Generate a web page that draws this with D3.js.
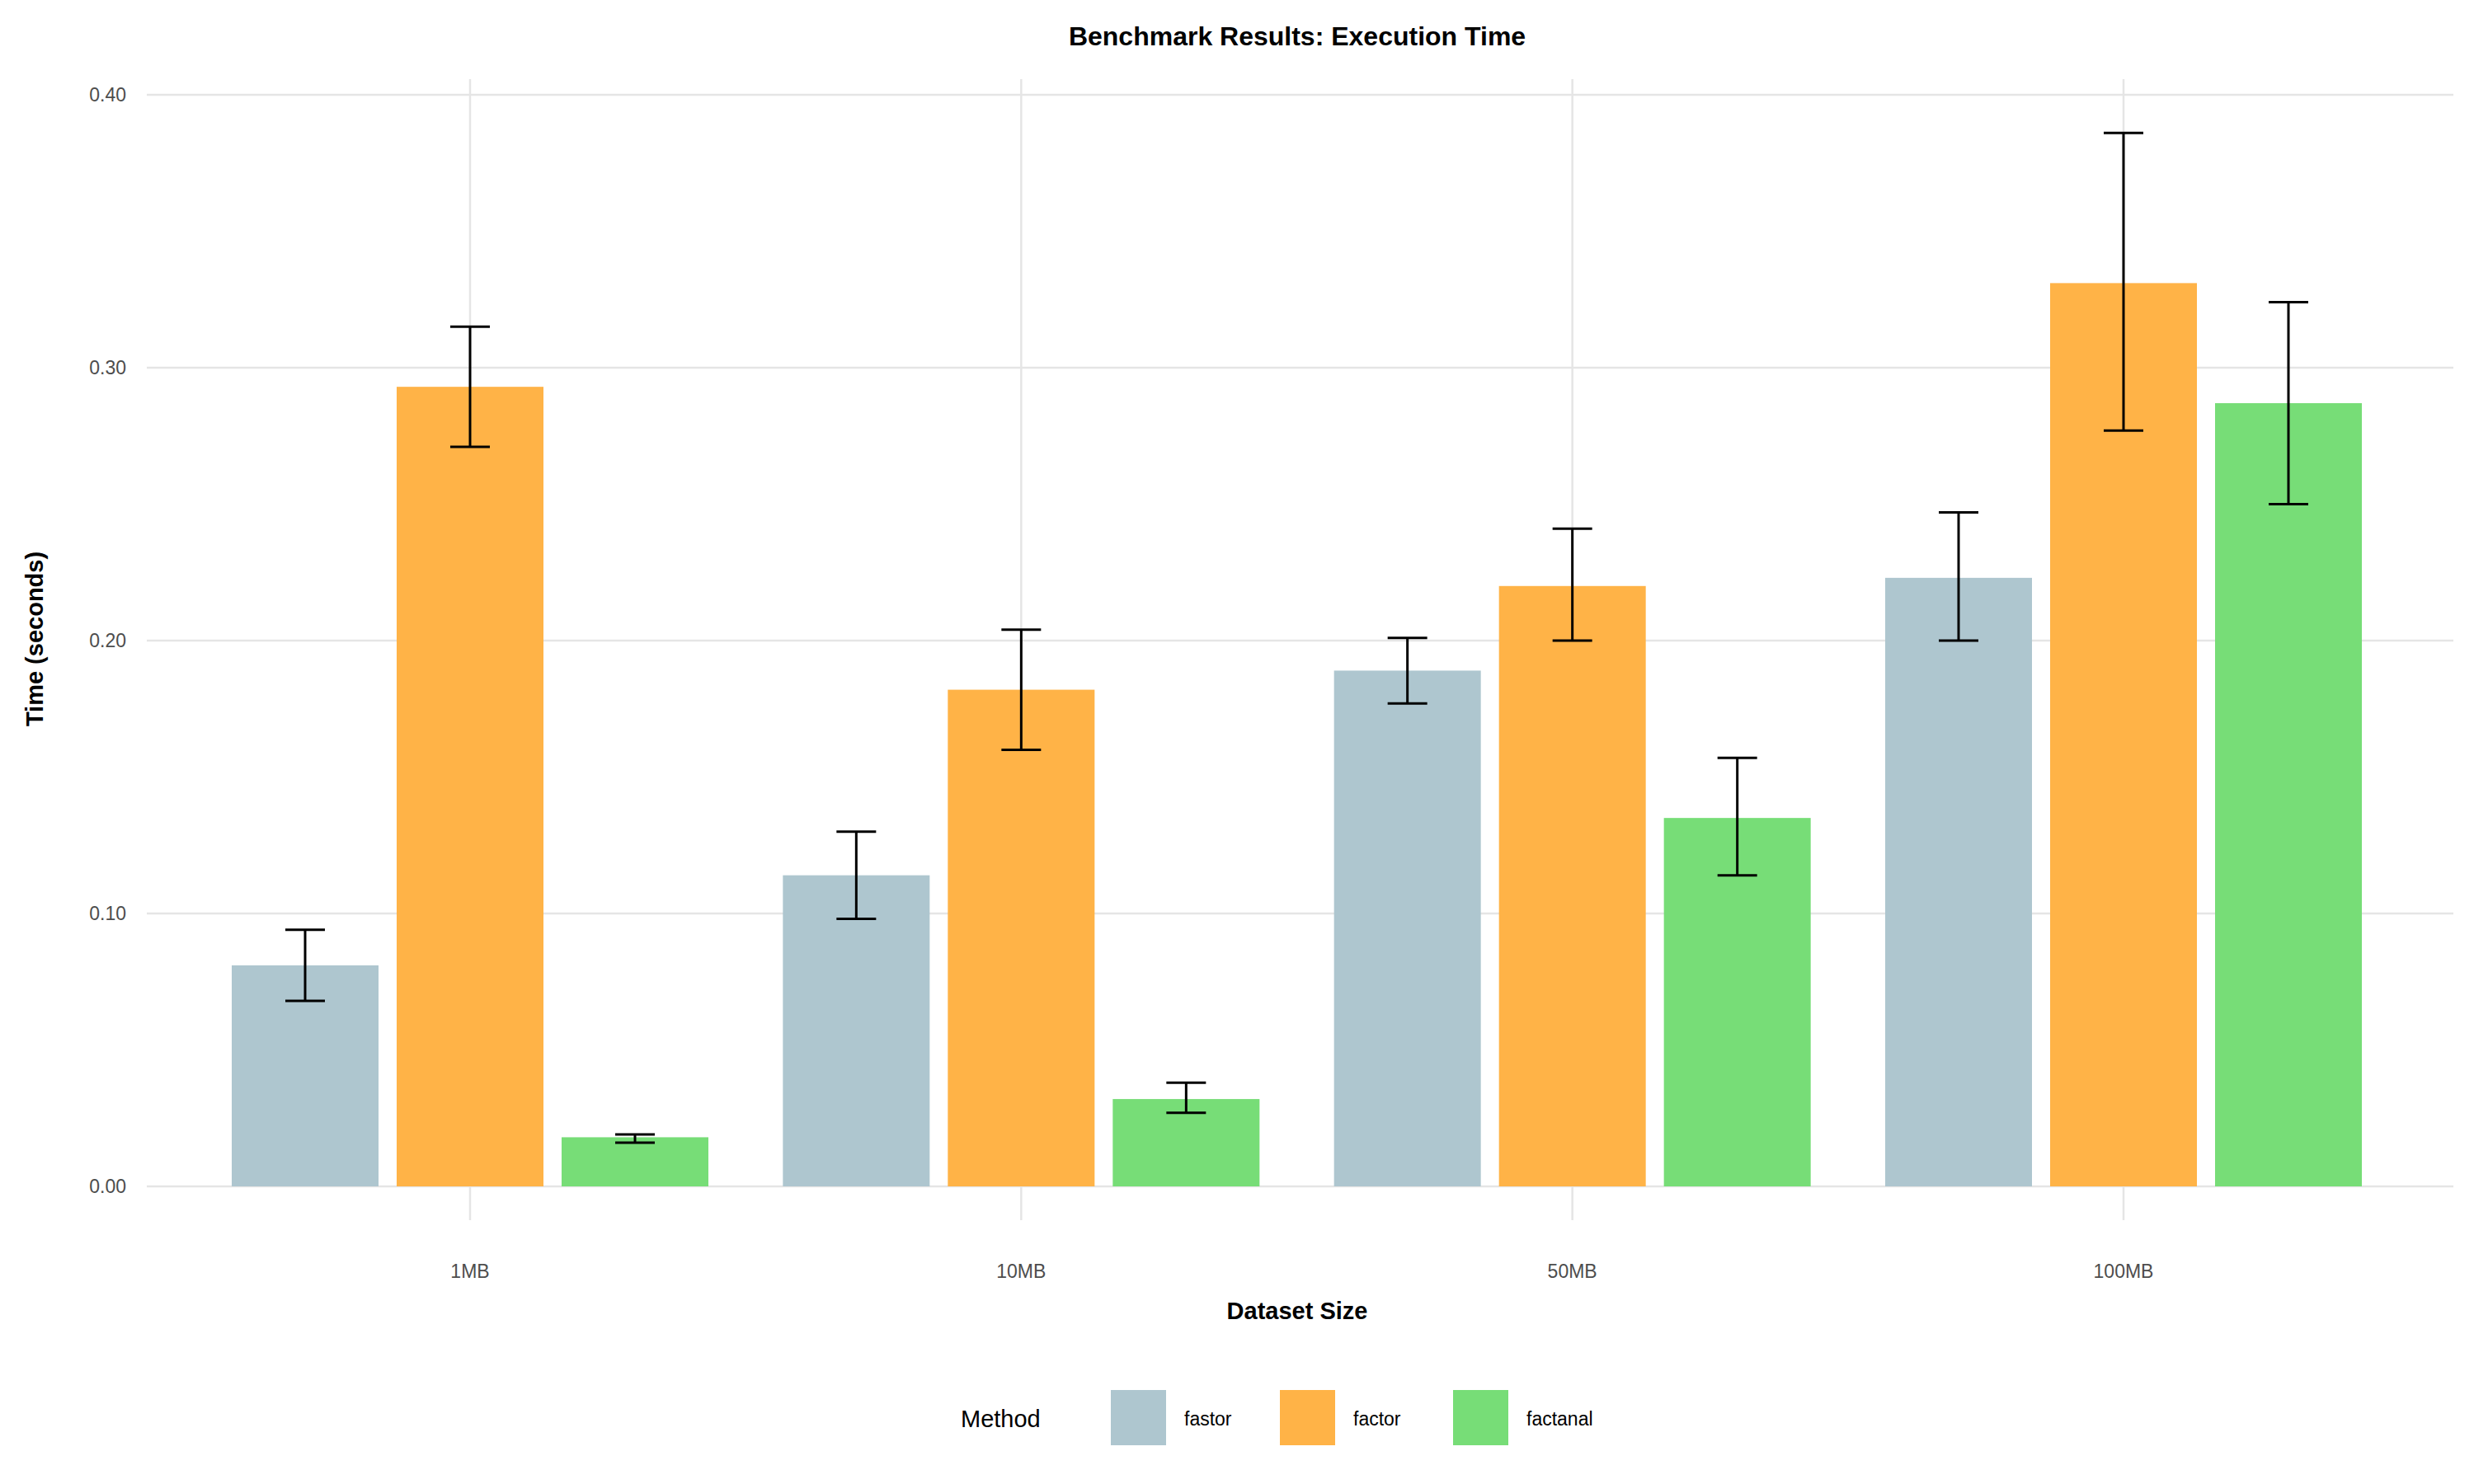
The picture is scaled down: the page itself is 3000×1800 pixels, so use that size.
<!DOCTYPE html>
<html><head><meta charset="utf-8">
<script src="https://cdn.jsdelivr.net/npm/d3@7.9.0/dist/d3.min.js"></script>
<style>body{margin:0;background:#fff}text{font-family:Arial,"Liberation Sans",sans-serif}</style>
</head><body>
<svg id="chart" width="3000" height="1800"></svg>
<script>
// Data
const sizes = ['1MB', '10MB', '50MB', '100MB'];
const methods = ['fastor', 'factor', 'factanal'];
const colors = ['#AEC6CF', '#FFB347', '#77DD77'];
const meanTime = {
  fastor:   [0.081, 0.114, 0.189, 0.223],
  factor:   [0.293, 0.182, 0.220, 0.331],
  factanal: [0.018, 0.032, 0.135, 0.287]
};
const lowTime = {
  fastor:   [0.068, 0.098, 0.177, 0.200],
  factor:   [0.271, 0.160, 0.200, 0.277],
  factanal: [0.016, 0.027, 0.114, 0.250]
};
const highTime = {
  fastor:   [0.094, 0.130, 0.201, 0.247],
  factor:   [0.315, 0.204, 0.241, 0.386],
  factanal: [0.019, 0.038, 0.157, 0.324]
};
const yTicks = [0, 0.1, 0.2, 0.3, 0.4];

const svg = d3.select('#chart');
const plotLeft = 178, plotRight = 2975, plotTop = 96, plotBottom = 1480;

const xc = d3.scalePoint().domain(sizes).range([570, 2575]);
const y = d3.scaleLinear().domain([0, 0.4]).range([1439, 115]);
const step = 200, bw = 178;

// grid
svg.append('g').selectAll('line').data(yTicks).join('line')
  .attr('x1', plotLeft).attr('x2', plotRight).attr('y1', d => y(d)).attr('y2', d => y(d))
  .attr('stroke', '#e5e5e5').attr('stroke-width', 2.5);
svg.append('g').selectAll('line').data(sizes).join('line')
  .attr('x1', d => xc(d)).attr('x2', d => xc(d)).attr('y1', plotTop).attr('y2', plotBottom)
  .attr('stroke', '#e5e5e5').attr('stroke-width', 2.5);

// bars + error bars
methods.forEach((m, mi) => {
  const g = svg.append('g');
  sizes.forEach((s, si) => {
    const cx = xc(s) + (mi - 1) * step;
    g.append('rect').attr('x', cx - bw / 2).attr('width', bw)
      .attr('y', y(meanTime[m][si])).attr('height', y(0) - y(meanTime[m][si]))
      .attr('fill', colors[mi]);
    const lo = y(lowTime[m][si]), hi = y(highTime[m][si]);
    g.append('line').attr('x1', cx).attr('x2', cx).attr('y1', lo).attr('y2', hi).attr('stroke', '#000').attr('stroke-width', 3);
    [lo, hi].forEach(v => g.append('line').attr('x1', cx - 24).attr('x2', cx + 24).attr('y1', v).attr('y2', v).attr('stroke', '#000').attr('stroke-width', 3));
  });
});

// axes labels
svg.append('g').selectAll('text').data(yTicks).join('text')
  .attr('x', 153).attr('y', d => y(d) + 8).attr('text-anchor', 'end')
  .attr('font-size', 23).attr('fill', '#4d4d4d').text(d => d.toFixed(2));
svg.append('g').selectAll('text').data(sizes).join('text')
  .attr('x', d => xc(d)).attr('y', 1550).attr('text-anchor', 'middle')
  .attr('font-size', 23).attr('fill', '#4d4d4d').text(d => d);

svg.append('text').attr('x', 1573).attr('y', 55).attr('text-anchor', 'middle')
  .attr('font-size', 32).attr('font-weight', 'bold').text('Benchmark Results: Execution Time');
svg.append('text').attr('x', 1573).attr('y', 1600).attr('text-anchor', 'middle')
  .attr('font-size', 29).attr('font-weight', 'bold').text('Dataset Size');
svg.append('text').attr('transform', 'translate(52,775) rotate(-90)').attr('text-anchor', 'middle')
  .attr('font-size', 29).attr('font-weight', 'bold').text('Time (seconds)');

// legend
const lg = svg.append('g');
lg.append('text').attr('x', 1165).attr('y', 1731).attr('font-size', 29).text('Method');
const keyX = [1347, 1552, 1762];
methods.forEach((m, i) => {
  lg.append('rect').attr('x', keyX[i]).attr('y', 1686).attr('width', 67).attr('height', 67).attr('fill', colors[i]);
  lg.append('text').attr('x', keyX[i] + 89).attr('y', 1729).attr('font-size', 23).text(m);
});
</script>
</body></html>
